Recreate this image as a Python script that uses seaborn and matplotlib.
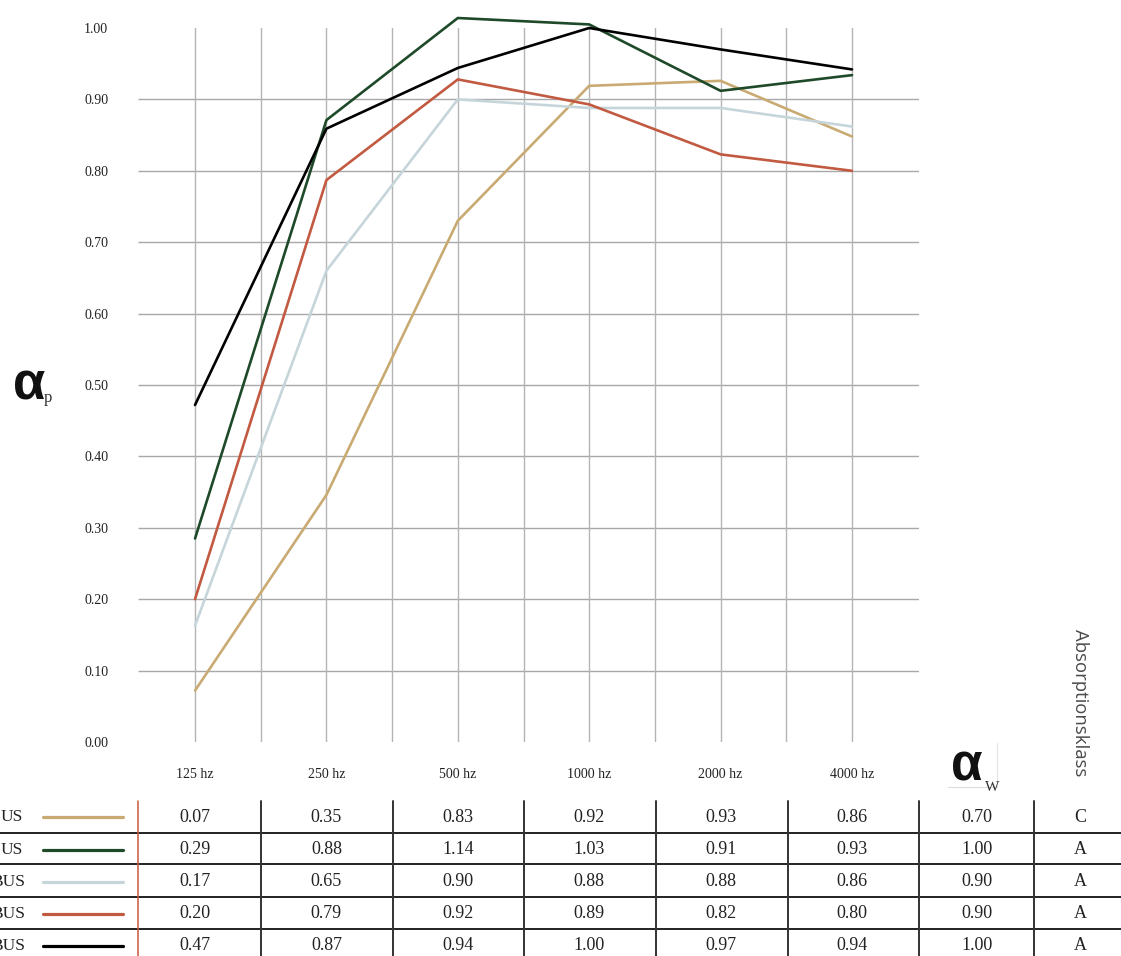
import matplotlib
matplotlib.use('Agg')
import matplotlib.pyplot as plt
import matplotlib.transforms as mtransforms
from matplotlib.lines import Line2D
import numpy as np
import pandas as pd
import seaborn as sns

# --- data ---
frekvenser = ["125 hz", "250 hz", "500 hz", "1000 hz", "2000 hz", "4000 hz"]
rad_etiketter = ["US", "US", "BUS", "BUS", "BUS"]
farger = ["#C9AA72", "#1F4A2A", "#C6D5DA", "#C25A41", "#000000"]

# kurvor som de är ritade i diagrammet
kurva_1 = [0.072, 0.346, 0.730, 0.919, 0.926, 0.848]
kurva_2 = [0.285, 0.871, 1.014, 1.005, 0.912, 0.934]
kurva_3 = [0.163, 0.660, 0.900, 0.888, 0.888, 0.862]
kurva_4 = [0.200, 0.787, 0.928, 0.893, 0.823, 0.800]
kurva_5 = [0.472, 0.859, 0.944, 1.000, 0.970, 0.942]
kurvor = [kurva_1, kurva_2, kurva_3, kurva_4, kurva_5]

# tabellvärden
tabell_1 = ["0.07", "0.35", "0.83", "0.92", "0.93", "0.86"]
tabell_2 = ["0.29", "0.88", "1.14", "1.03", "0.91", "0.93"]
tabell_3 = ["0.17", "0.65", "0.90", "0.88", "0.88", "0.86"]
tabell_4 = ["0.20", "0.79", "0.92", "0.89", "0.82", "0.80"]
tabell_5 = ["0.47", "0.87", "0.94", "1.00", "0.97", "0.94"]
tabell = [tabell_1, tabell_2, tabell_3, tabell_4, tabell_5]
alpha_w = ["0.70", "1.00", "0.90", "0.90", "1.00"]
klass = ["C", "A", "A", "A", "A"]

y_ticks = [0.0, 0.1, 0.2, 0.3, 0.4, 0.5, 0.6, 0.7, 0.8, 0.9, 1.0]

# --- layout ---
W, H = 1121, 956
sns.set_style("white")
plt.rcParams['font.family'] = ['Liberation Serif', 'DejaVu Serif']

fig = plt.figure(figsize=(W / 100, H / 100), dpi=100)
ax = fig.add_axes([138 / W, 1 - 742 / H, (919 - 138) / W, (742 - 28) / H])

def fx(px):
    return px / W

def fy(py):
    return 1 - py / H

rows = []
for i, k in enumerate(kurvor):
    for f, v in zip(frekvenser, k):
        rows.append({'serie': i, 'frekvens': f, 'alpha': v})
df = pd.DataFrame(rows)
df['pos'] = df['frekvens'].map({f: j for j, f in enumerate(frekvenser)})

# rutnät
ax.hlines(y_ticks[1:-1], -0.434, 5.51, color='#a8a8a8', lw=1.0, zorder=1)
ax.vlines(np.arange(0, 5.01, 0.5), 0, 1.004, color='#b4b4b4', lw=1.0, zorder=1)

sns.lineplot(data=df, x='pos', y='alpha', hue='serie', palette=farger,
             legend=False, lw=1.9, ax=ax, zorder=3)
for ln in ax.lines:
    ln.set_clip_on(False)

ax.set_xlim(-0.434, 5.51)
ax.set_ylim(0, 1.0)
ax.set_xticks(range(len(frekvenser)))
ax.set_xticklabels(frekvenser, fontsize=10, color='#222222')
ax.set_yticks(y_ticks)
ax.set_yticklabels([f"{v:.2f}" for v in y_ticks], fontsize=10, color='#222222')
ax.tick_params(axis='y', length=0, pad=21.5)
ax.tick_params(axis='x', length=0, pad=19)
ax.set_xlabel('')
ax.set_ylabel('')
for s in ax.spines.values():
    s.set_visible(False)

# alpha_p
fig.text(fx(29), fy(386), "α", fontsize=38, fontweight='bold', family='Liberation Sans',
         ha='center', va='center', color='#111111')
fig.text(fx(44), fy(402), "p", fontsize=12, ha='left', va='baseline', color='#333333')

# alpha_w
fig.text(fx(967), fy(767), "α", fontsize=37, fontweight='bold', family='Liberation Sans',
         ha='center', va='center', color='#111111')
fig.text(fx(985), fy(791), "W", fontsize=11, ha='left', va='baseline', color='#333333')
fig.add_artist(Line2D([fx(948), fx(997)], [fy(787), fy(787)], color='#dddddd', lw=0.8))
fig.add_artist(Line2D([fx(997), fx(997)], [fy(743), fy(787)], color='#e4e4e4', lw=0.8))

# Absorptionsklass
fig.text(fx(1080), fy(629), "Absorptionsklass", rotation=-90, fontsize=13.3,
         family='Open Sans', ha='center', va='top', color='#4a4a4a')

# --- tabell ---
trans = mtransforms.blended_transform_factory(ax.transData, fig.transFigure)
rad_y = [817, 850, 882, 914, 946]
etikett_x = [23, 23, 25, 25, 25]
for py in [833, 864, 897, 929]:
    fig.add_artist(Line2D([0, 1], [fy(py), fy(py)], color='#111111', lw=1.3))
fig.add_artist(Line2D([fx(138), fx(138)], [fy(801), 0], color='#C8583E', lw=1.1))
for px in [261, 393, 524, 656, 788, 919, 1034]:
    fig.add_artist(Line2D([fx(px), fx(px)], [fy(801), 0], color='#333333', lw=1.4))

for r in range(5):
    y = fy(rad_y[r])
    fig.text(fx(etikett_x[r]), y, rad_etiketter[r], fontsize=12.5, ha='right', va='center',
             color='#222222')
    fig.add_artist(Line2D([fx(43), fx(123)], [y, y], color=farger[r], lw=2.3))
    for j, v in enumerate(tabell[r]):
        ax.text(j, y, v, transform=trans, fontsize=13, ha='center', va='center',
                color='#222222')
    fig.text(fx(977), y, alpha_w[r], fontsize=13, ha='center', va='center', color='#222222')
    fig.text(fx(1080), y, klass[r], fontsize=13, ha='center', va='center', color='#222222')

fig.savefig('out.png', dpi=100, facecolor='white')
